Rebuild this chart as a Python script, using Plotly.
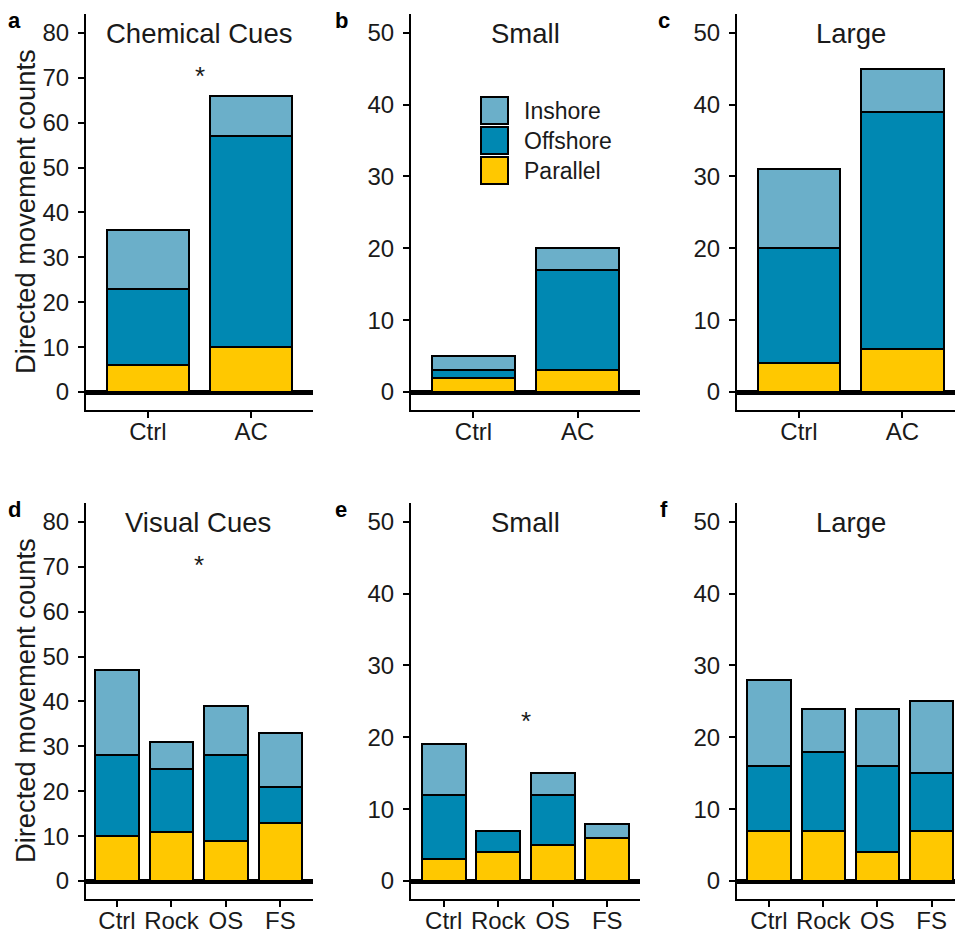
import plotly.graph_objects as go

# ---------------- data ----------------
chem_cats = ["Ctrl", "AC"]
vis_cats = ["Ctrl", "Rock", "OS", "FS"]
series_names = ["Parallel", "Offshore", "Inshore"]

# panel a: Chemical cues (all)
a_parallel = [6, 10]
a_offshore = [17, 47]
a_inshore = [13, 9]
# panel b: Small
b_parallel = [2, 3]
b_offshore = [1, 14]
b_inshore = [2, 3]
# panel c: Large
c_parallel = [4, 6]
c_offshore = [16, 33]
c_inshore = [11, 6]
# panel d: Visual cues (all)
d_parallel = [10, 11, 9, 13]
d_offshore = [18, 14, 19, 8]
d_inshore = [19, 6, 11, 12]
# panel e: Small
e_parallel = [3, 4, 5, 6]
e_offshore = [9, 3, 7, 0]
e_inshore = [7, 0, 3, 2]
# panel f: Large
f_parallel = [7, 7, 4, 7]
f_offshore = [9, 11, 12, 8]
f_inshore = [12, 6, 8, 10]

panel_titles = ["Chemical Cues", "Small", "Large", "Visual Cues", "Small", "Large"]
panel_letters = ["a", "b", "c", "d", "e", "f"]
y_label = "Directed movement counts"
legend_order = ["Inshore", "Offshore", "Parallel"]
# significance stars: (panel index, x position in category units, y value)
stars = [(0, 0.5, 70.5), (3, 1.5, 70.5), (4, 1.5, 22.2)]

# ---------------- style ----------------
W, H = 955, 931
FONT = "Liberation Sans, Arial, sans-serif"
TXT = "#1a1a1a"
colors = {"Parallel": "#FFC800", "Offshore": "#0088B2", "Inshore": "#6BAFC9"}

panels = [
    (chem_cats, [a_parallel, a_offshore, a_inshore]),
    (chem_cats, [b_parallel, b_offshore, b_inshore]),
    (chem_cats, [c_parallel, c_offshore, c_inshore]),
    (vis_cats, [d_parallel, d_offshore, d_inshore]),
    (vis_cats, [e_parallel, e_offshore, e_inshore]),
    (vis_cats, [f_parallel, f_offshore, f_inshore]),
]

# pixel layout
col_px = [(86, 313), (411, 640), (737, 955)]
row_px = [(14, 410), (503, 899)]
x_ranges = [[-0.6, 1.6], [-0.6, 1.6], [-0.6, 1.51],
            [-0.57, 3.6], [-0.6, 3.6], [-0.59, 3.43]]
y_ranges = [[-4.0, 84.2], [-2.5, 52.6], [-2.5, 52.6],
            [-4.0, 84.2], [-2.5, 52.6], [-2.5, 52.6]]
y_ticks = [list(range(0, 81, 10)), list(range(0, 51, 10)), list(range(0, 51, 10))] * 2
title_centers = [199, 525, 851, 198, 525, 851]
title_rows = [33, 522]
letter_x = [14, 341, 664]
letter_y = [21, 509]

fig = go.Figure()
layout = dict(
    width=W, height=H,
    margin=dict(l=0, r=0, t=0, b=0, autoexpand=False),
    paper_bgcolor="white", plot_bgcolor="white",
    barmode="stack", bargap=0.2,
    showlegend=False,
    font=dict(family=FONT, color=TXT, size=24),
)
annotations = []
shapes = []

for i, (cats, vals) in enumerate(panels):
    r, c = divmod(i, 3)
    n = i + 1
    xa = "x" if n == 1 else f"x{n}"
    ya = "y" if n == 1 else f"y{n}"
    for name, v in zip(series_names, vals):
        fig.add_trace(go.Bar(
            x=cats, y=v, name=name, xaxis=xa, yaxis=ya,
            marker=dict(color=colors[name], line=dict(color="black", width=2)),
            showlegend=False,
        ))
    x0, x1 = col_px[c]
    y0, y1 = row_px[r]
    xkey = "xaxis" if n == 1 else f"xaxis{n}"
    ykey = "yaxis" if n == 1 else f"yaxis{n}"
    layout[xkey] = dict(
        domain=[x0 / W, min(x1 / W, 1.0)], anchor=ya,
        type="category", categoryorder="array", categoryarray=cats,
        range=x_ranges[i], showline=True, linecolor="black", linewidth=2,
        ticks="outside", ticklen=6, tickwidth=2, tickcolor="black",
        showgrid=False, zeroline=False, fixedrange=True, automargin=False,
        tickfont=dict(size=24, family=FONT, color=TXT),
        ticklabelstandoff=-7,
    )
    layout[ykey] = dict(
        domain=[1 - y1 / H, 1 - y0 / H], anchor=xa,
        range=y_ranges[i], tickvals=y_ticks[i], showline=True,
        linecolor="black", linewidth=2, ticks="outside", ticklen=6,
        tickwidth=2, tickcolor="black", showgrid=False,
        zeroline=True, zerolinecolor="black", zerolinewidth=4.5,
        tickfont=dict(size=24, family=FONT, color=TXT),
        ticklabelstandoff=4, fixedrange=True, automargin=False,
    )
    # panel title
    annotations.append(dict(
        text=panel_titles[i], xref="paper", yref="paper",
        x=title_centers[i] / W, y=1 - title_rows[r] / H,
        xanchor="center", yanchor="middle", showarrow=False,
        font=dict(size=27.5, family=FONT, color=TXT),
    ))
    # panel letter
    annotations.append(dict(
        text=f"<b>{panel_letters[i]}</b>", xref="paper", yref="paper",
        x=letter_x[c] / W, y=1 - letter_y[r] / H, xanchor="center",
        yanchor="middle", showarrow=False,
        font=dict(size=22, family=FONT, color="black"),
    ))

# y axis titles
for r in range(2):
    y0, y1 = row_px[r]
    annotations.append(dict(
        text=y_label, xref="paper", yref="paper", x=25 / W,
        y=1 - ((y0 + y1) / 2) / H, textangle=-90, xanchor="center",
        yanchor="middle", showarrow=False,
        font=dict(size=27.3, family=FONT, color=TXT),
    ))

# significance stars
for (pi, sx, sy) in stars:
    n = pi + 1
    xa = "x" if n == 1 else f"x{n}"
    ya = "y" if n == 1 else f"y{n}"
    annotations.append(dict(
        text="*", xref=xa, yref=ya, x=sx, y=sy, xanchor="center",
        yanchor="middle", showarrow=False,
        font=dict(size=26, family=FONT, color=TXT),
    ))

# legend (drawn in panel b)
leg_x0, leg_x1 = 481, 508
leg_rows = [(97, 124), (127, 154), (157, 184)]
for name, (ly0, ly1) in zip(legend_order, leg_rows):
    shapes.append(dict(
        type="rect", xref="paper", yref="paper",
        x0=leg_x0 / W, x1=leg_x1 / W, y0=1 - ly1 / H, y1=1 - ly0 / H,
        fillcolor=colors[name], line=dict(color="black", width=2),
    ))
    annotations.append(dict(
        text=name, xref="paper", yref="paper", x=522 / W,
        y=1 - ((ly0 + ly1) / 2) / H, xanchor="left", yanchor="middle",
        showarrow=False, font=dict(size=23, family=FONT, color=TXT),
    ))

layout["annotations"] = annotations
layout["shapes"] = shapes
fig.update_layout(**layout)
fig.write_html(
    "out.html",
    config={"displayModeBar": False},
    post_script="document.body.style.margin='0';document.body.style.overflow='hidden';",
)
